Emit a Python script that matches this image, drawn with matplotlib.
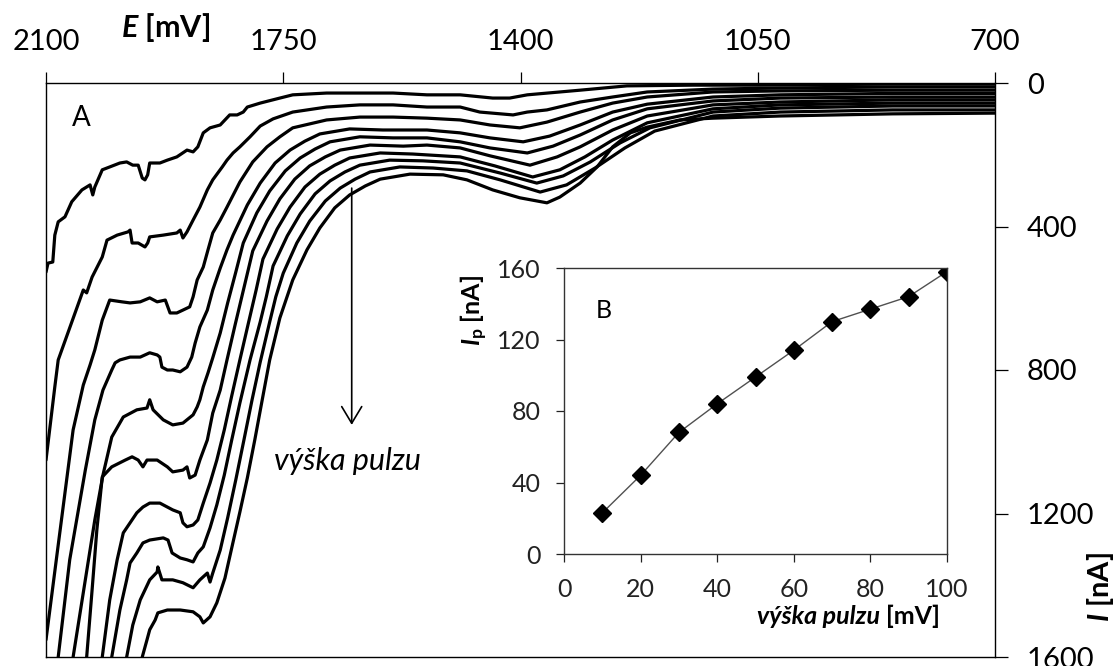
import matplotlib
matplotlib.use("Agg")
import matplotlib.pyplot as plt

plt.rcParams["font.family"] = ["Lato", "DejaVu Sans"]
plt.rcParams["mathtext.fontset"] = "custom"
plt.rcParams["mathtext.it"] = "Lato:italic:bold"
plt.rcParams["mathtext.rm"] = "Lato:bold"
plt.rcParams["mathtext.bf"] = "Lato:bold"

# ---- voltammograms (potential E in mV, current I in nA), one per pulse height ----
pulse_heights = [10, 20, 30, 40, 50, 60, 70, 80, 90, 100]

e_10 = [2100, 2097, 2090, 2087, 2082, 2072, 2062, 2047, 2035, 2031, 2028, 2017, 2006, 1991, 1981,
        1972, 1964, 1958, 1954, 1950, 1947, 1932, 1921, 1907, 1892, 1883, 1876, 1868, 1858, 1843,
        1829, 1818, 1809, 1803, 1784, 1755, 1736, 1686, 1637, 1588, 1538, 1489, 1441, 1416, 1390,
        1342, 1312, 1243, 1145, 1047, 851, 700]
i_10 = [527, 502, 499, 424, 387, 373, 331, 298, 284, 312, 290, 242, 234, 223, 220,
        229, 229, 265, 270, 256, 223, 223, 215, 206, 187, 192, 178, 139, 125, 117,
        89, 89, 81, 67, 56, 42, 33, 28, 28, 28, 33, 33, 42, 42, 33,
        25, 20, 8, 6, 6, 3, 3]

e_20 = [2100, 2087, 2082, 2045, 2040, 2032, 2017, 2010, 1995, 1979, 1976, 1973, 1964, 1954, 1950,
        1947, 1927, 1907, 1902, 1898, 1892, 1883, 1873, 1862, 1854, 1840, 1833, 1824, 1814, 1799,
        1784, 1765, 1736, 1686, 1637, 1588, 1538, 1489, 1460, 1411, 1390, 1361, 1312, 1264, 1213,
        1116, 1017, 851, 700]
i_20 = [1051, 847, 772, 577, 585, 541, 485, 438, 424, 415, 410, 446, 446, 457, 446,
        429, 424, 418, 410, 432, 415, 382, 346, 298, 270, 234, 215, 195, 178, 150,
        120, 100, 81, 67, 61, 61, 67, 67, 81, 89, 81, 75, 53, 39, 25,
        17, 14, 11, 11]

e_30 = [2100, 2082, 2060, 2045, 2035, 2028, 2017, 2006, 1988, 1976, 1961, 1947, 1936, 1924, 1917,
        1907, 1898, 1888, 1883, 1877, 1868, 1861, 1854, 1843, 1833, 1814, 1795, 1774, 1755, 1736,
        1686, 1637, 1588, 1538, 1489, 1445, 1401, 1361, 1312, 1264, 1213, 1116, 1017, 851, 700]
i_30 = [1552, 1288, 967, 842, 786, 744, 661, 605, 610, 613, 610, 599, 610, 605, 641,
        641, 633, 624, 596, 549, 513, 465, 418, 382, 346, 276, 220, 178, 150, 125,
        103, 95, 95, 98, 103, 117, 125, 109, 81, 56, 39, 25, 22, 20, 20]

e_40 = [2082, 2065, 2042, 2028, 2016, 2003, 1998, 1991, 1976, 1961, 1947, 1936, 1932, 1929, 1921,
        1913, 1902, 1892, 1885, 1880, 1873, 1862, 1854, 1843, 1833, 1824, 1803, 1784, 1762, 1740,
        1718, 1696, 1652, 1603, 1538, 1489, 1445, 1396, 1357, 1312, 1264, 1213, 1116, 1017, 851, 700]
i_40 = [1600, 1329, 1079, 939, 856, 800, 780, 772, 764, 764, 752, 758, 764, 792, 800,
        800, 805, 792, 764, 725, 680, 633, 577, 516, 465, 424, 340, 279, 223, 187,
        162, 142, 128, 131, 131, 139, 153, 164, 148, 117, 81, 59, 39, 33, 29, 29]

e_50 = [2060, 2042, 2028, 2016, 2003, 1986, 1966, 1951, 1947, 1942, 1927, 1913, 1898, 1883, 1877,
        1873, 1868, 1861, 1854, 1843, 1832, 1820, 1809, 1789, 1770, 1747, 1725, 1703, 1681, 1637,
        1588, 1538, 1489, 1445, 1390, 1352, 1312, 1264, 1213, 1116, 1017, 851, 700]
i_50 = [1600, 1385, 1218, 1093, 987, 931, 911, 906, 883, 911, 939, 953, 948, 925, 903,
        883, 847, 808, 766, 697, 613, 527, 446, 362, 301, 245, 209, 184, 164, 150,
        153, 153, 164, 181, 195, 176, 145, 103, 72, 50, 42, 39, 39]

e_60 = [2040, 2032, 2025, 2017, 2003, 1983, 1973, 1964, 1957, 1951, 1936, 1921, 1913, 1898, 1892,
        1888, 1880, 1873, 1862, 1854, 1843, 1833, 1821, 1808, 1795, 1774, 1755, 1733, 1711, 1688,
        1666, 1622, 1573, 1538, 1489, 1445, 1386, 1346, 1312, 1264, 1213, 1116, 1017, 851, 700]
i_60 = [1600, 1413, 1246, 1098, 1070, 1051, 1042, 1051, 1070, 1051, 1051, 1070, 1084, 1079, 1070,
        1101, 1093, 1051, 995, 920, 856, 772, 674, 571, 468, 385, 323, 268, 231, 206,
        187, 173, 176, 173, 181, 203, 229, 206, 178, 131, 92, 61, 53, 47, 47]

e_70 = [2017, 2006, 1995, 1986, 1976, 1966, 1957, 1947, 1932, 1921, 1913, 1902, 1898, 1892, 1883,
        1876, 1868, 1858, 1848, 1837, 1826, 1814, 1802, 1790, 1780, 1759, 1740, 1718, 1696, 1674,
        1652, 1607, 1559, 1489, 1438, 1382, 1342, 1305, 1264, 1213, 1116, 1017, 851, 700]
i_70 = [1600, 1441, 1329, 1254, 1226, 1198, 1182, 1171, 1171, 1182, 1190, 1198, 1226, 1237, 1232,
        1218, 1171, 1115, 1051, 967, 872, 772, 674, 577, 491, 407, 346, 290, 254, 229,
        209, 195, 198, 206, 231, 262, 242, 206, 159, 111, 72, 61, 56, 56]

e_80 = [2003, 1991, 1981, 1976, 1966, 1957, 1947, 1927, 1920, 1914, 1902, 1892, 1883, 1876, 1868,
        1858, 1848, 1837, 1826, 1814, 1799, 1784, 1775, 1765, 1744, 1725, 1703, 1681, 1659, 1637,
        1593, 1544, 1489, 1430, 1376, 1337, 1297, 1253, 1209, 1116, 1017, 851, 700]
i_80 = [1600, 1469, 1385, 1338, 1310, 1282, 1274, 1268, 1274, 1310, 1324, 1329, 1335, 1310, 1293,
        1240, 1176, 1093, 995, 892, 772, 666, 596, 510, 426, 365, 309, 273, 248, 229,
        215, 217, 223, 251, 279, 259, 220, 167, 125, 81, 70, 64, 64]

e_90 = [1981, 1972, 1961, 1947, 1936, 1935, 1929, 1913, 1898, 1883, 1873, 1862, 1858, 1854, 1843,
        1832, 1820, 1808, 1796, 1784, 1770, 1761, 1750, 1730, 1711, 1688, 1666, 1644, 1622, 1578,
        1529, 1479, 1430, 1371, 1332, 1290, 1246, 1202, 1116, 1017, 851, 700]
i_90 = [1600, 1511, 1441, 1385, 1363, 1349, 1385, 1385, 1393, 1407, 1385, 1366, 1391, 1366, 1302,
        1212, 1106, 995, 883, 778, 666, 596, 530, 446, 385, 329, 293, 268, 248, 234,
        237, 245, 270, 304, 284, 237, 181, 134, 92, 81, 75, 75]

e_100 = [1958, 1951, 1947, 1939, 1935, 1921, 1902, 1883, 1873, 1868, 1858, 1848, 1836, 1826, 1814,
         1803, 1792, 1781, 1770, 1755, 1736, 1715, 1696, 1674, 1652, 1629, 1607, 1563, 1514, 1479,
         1441, 1401, 1361, 1342, 1312, 1287, 1264, 1238, 1213, 1165, 1116, 1017, 851, 700]
i_100 = [1600, 1552, 1524, 1497, 1477, 1469, 1469, 1474, 1488, 1505, 1488, 1449, 1380, 1296, 1196,
         1101, 995, 883, 772, 655, 549, 465, 404, 348, 312, 287, 268, 254, 256, 270,
         298, 320, 334, 318, 279, 234, 178, 139, 123, 103, 98, 92, 86, 84]

potentials = [e_10, e_20, e_30, e_40, e_50, e_60, e_70, e_80, e_90, e_100]
currents = [i_10, i_20, i_30, i_40, i_50, i_60, i_70, i_80, i_90, i_100]

# ---- inset: peak current vs pulse height ----
inset_pulse = [10, 20, 30, 40, 50, 60, 70, 80, 90, 100]
inset_peak = [23, 44, 68, 84, 99, 114, 130, 137, 144, 158]

W, H = 1118, 666
fig = plt.figure(figsize=(W / 100, H / 100), dpi=100)


def fx(px):
    return px / W


def fy(py):
    return 1 - py / H


ax = fig.add_axes([fx(46), fy(657), fx(995) - fx(46), fy(83) - fy(657)])
for e, i in zip(potentials, currents):
    ax.plot(e, i, color="black", lw=2.3, solid_joinstyle="round", solid_capstyle="round")

ax.set_xlim(2100, 700)
ax.set_ylim(1600, 0)
ax.xaxis.tick_top()
ax.yaxis.tick_right()
ax.set_xticks([2100, 1750, 1400, 1050, 700])
ax.set_yticks([0, 400, 800, 1200, 1600])
ax.tick_params(axis="x", direction="out", length=8, width=0.9, pad=12, labelsize=21)
ax.tick_params(axis="y", direction="out", length=9, width=0.9, pad=14, labelsize=21)
for s in ax.spines.values():
    s.set_linewidth(1.0)

ax.annotate("", xy=(1649, 953), xytext=(1649, 293),
            arrowprops=dict(arrowstyle="->,head_length=0.6,head_width=0.36",
                            mutation_scale=20, lw=1.2, color="black",
                            shrinkA=0, shrinkB=0))

fig.text(fx(81), fy(118), "A", fontsize=20, ha="center", va="center")
fig.text(fx(347), fy(461), "výška pulzu", fontsize=22, style="italic",
         ha="center", va="center")
fig.text(fx(166), fy(28), r"$E$ [mV]", fontsize=22, fontweight="bold",
         ha="center", va="center")
fig.text(fx(1100), fy(587), r"$I$ [nA]", fontsize=21, fontweight="bold",
         rotation=90, ha="center", va="center")

# ---- inset axes ----
axi = fig.add_axes([fx(564), fy(554), fx(947) - fx(564), fy(268) - fy(554)])
axi.set_facecolor("white")
axi.plot(inset_pulse, inset_peak, color="#505050", lw=1.0, marker="D", ms=9,
         mfc="black", mec="black")
axi.set_xlim(0, 100)
axi.set_ylim(0, 160)
axi.set_xticks([0, 20, 40, 60, 80, 100])
axi.set_yticks([0, 40, 80, 120, 160])
axi.tick_params(direction="out", length=6, width=0.9, pad=11, labelsize=18,
                colors="#222222")
for s in axi.spines.values():
    s.set_linewidth(1.0)
    s.set_color("#333333")

fig.text(fx(604), fy(311), "B", fontsize=18, ha="center", va="center")
fig.text(fx(474), fy(311), r"$I_\mathrm{p}$ [nA]", fontsize=18, fontweight="bold",
         rotation=90, ha="center", va="center")
fig.text(fx(880), fy(616), "výška pulzu", fontsize=18, fontweight="bold",
         style="italic", ha="right", va="center")
fig.text(fx(886), fy(616), "[mV]", fontsize=18, fontweight="bold",
         ha="left", va="center")

fig.savefig("out.png", dpi=100)
